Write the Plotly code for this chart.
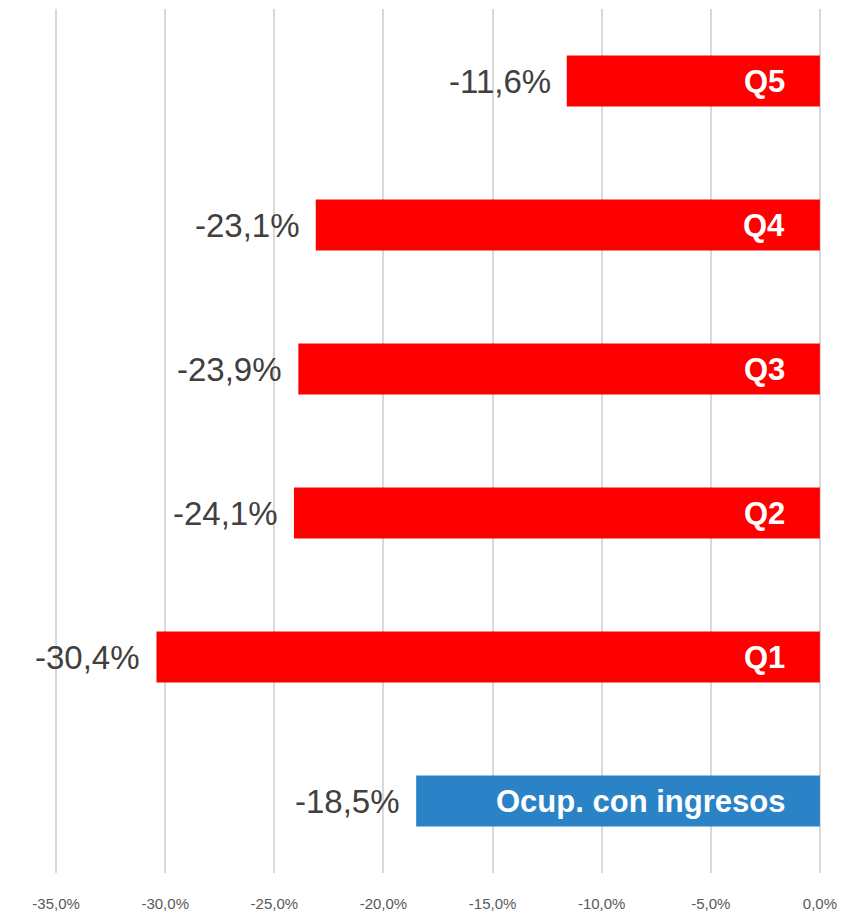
import plotly.graph_objects as go

# data (bottom to top)
categories = ["Ocup. con ingresos", "Q1", "Q2", "Q3", "Q4", "Q5"]
values = [-18.5, -30.4, -24.1, -23.9, -23.1, -11.6]
bar_colors = ["#2A83C6", "#FF0000", "#FF0000", "#FF0000", "#FF0000", "#FF0000"]
tick_vals = [-35, -30, -25, -20, -15, -10, -5, 0]
tick_text = ["-35,0%", "-30,0%", "-25,0%", "-20,0%", "-15,0%", "-10,0%", "-5,0%", "0,0%"]


def fmt(v):
    return f"{v:.1f}%".replace(".", ",")


fig = go.Figure(go.Bar(
    x=values,
    y=categories,
    orientation="h",
    marker=dict(color=bar_colors, line=dict(width=0)),
    hoverinfo="skip",
))

for cat, v in zip(categories, values):
    # value label left of the bar
    fig.add_annotation(
        x=v, y=cat, text=fmt(v), showarrow=False,
        xanchor="right", xshift=-14,
        font=dict(family="Liberation Sans, Arial", size=33, color="#404040"),
    )
    # category name inside the bar, near zero
    fig.add_annotation(
        x=0, y=cat, text=f"<b>{cat}</b>", showarrow=False,
        xanchor="right", xshift=-33,
        font=dict(family="Liberation Sans, Arial", size=31, color="white"),
    )

# page body has an 8px margin, so the figure is a bit smaller than the window
fig.update_layout(
    width=843, height=905,
    margin=dict(l=47, r=30, t=1, b=40),
    plot_bgcolor="white", paper_bgcolor="white",
    bargap=0.646,
    showlegend=False,
    xaxis=dict(
        range=[-35.05, 0.05], tickvals=tick_vals, ticktext=tick_text,
        automargin=False,
        showgrid=True, gridcolor="#D9D9D9", gridwidth=2,
        zeroline=True, zerolinecolor="#D9D9D9", zerolinewidth=2,
        ticks="outside", ticklen=17, tickcolor="rgba(0,0,0,0)",
        tickfont=dict(family="Liberation Sans, Arial", size=15, color="#595959"),
        showline=False,
    ),
    yaxis=dict(showticklabels=False, showgrid=False, zeroline=False, ticks="",
               automargin=False),
)

fig.write_html("out.html")
